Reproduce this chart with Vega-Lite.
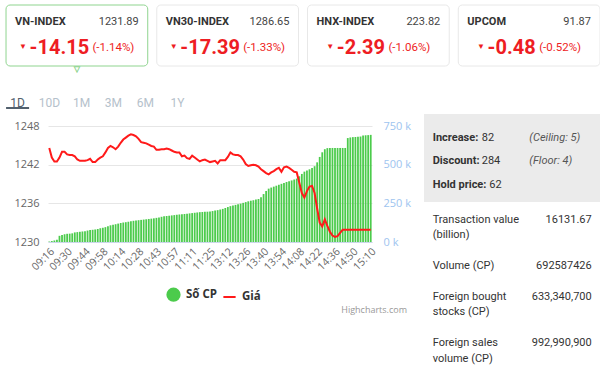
{
"$schema": "https://vega.github.io/schema/vega-lite/v6.json",
"padding": {"top": 4, "left": 0, "right": 0, "bottom": 0},
"background": "white",
"config": {"view": {"stroke": null}, "font": "Open Sans", "text": {"font": "Roboto"}},
"datasets": {
 "cards": [
  {"name": "VN-INDEX", "value": 1231.89, "change": -14.15, "pct": -1.14},
  {"name": "VN30-INDEX", "value": 1286.65, "change": -17.39, "pct": -1.33},
  {"name": "HNX-INDEX", "value": 223.82, "change": -2.39, "pct": -1.06},
  {"name": "UPCOM", "value": 91.87, "change": -0.48, "pct": -0.52}
 ],
 "tabs": [{"tab": "1D"}, {"tab": "10D"}, {"tab": "1M"}, {"tab": "3M"}, {"tab": "6M"}, {"tab": "1Y"}],
 "stats": [
  {"k": "Increase:", "v": "82", "note": "(Ceiling: 5)"},
  {"k": "Discount:", "v": "284", "note": "(Floor: 4)"},
  {"k": "Hold price:", "v": "62", "note": ""}
 ],
 "info": [
  {"line": "Transaction value", "val": "16131.67"},
  {"line": "(billion)", "val": ""},
  {"line": "Volume (CP)", "val": "692587426"},
  {"line": "Foreign bought", "val": "633,340,700"},
  {"line": "stocks (CP)", "val": ""},
  {"line": "Foreign sales", "val": "992,990,900"},
  {"line": "volume (CP)", "val": ""}
 ],
 "series": [
  {"t":"09:16","v":3,"p":1244.6},{"t":"09:18","v":6,"p":1243.1},{"t":"09:20","v":10,"p":1242.5},{"t":"09:22","v":15,"p":1242.5},
  {"t":"09:24","v":40,"p":1243.1},{"t":"09:26","v":45,"p":1244.0},{"t":"09:28","v":50,"p":1244.0},{"t":"09:30","v":53,"p":1243.6},
  {"t":"09:32","v":54,"p":1243.5},{"t":"09:34","v":56,"p":1243.5},{"t":"09:36","v":62,"p":1243.3},{"t":"09:38","v":64,"p":1242.8},
  {"t":"09:40","v":66,"p":1242.6},{"t":"09:42","v":68,"p":1242.6},{"t":"09:44","v":70,"p":1242.6},{"t":"09:46","v":74,"p":1242.7},
  {"t":"09:48","v":77,"p":1242.9},{"t":"09:50","v":79,"p":1242.4},{"t":"09:52","v":81,"p":1242.4},{"t":"09:54","v":84,"p":1242.8},
  {"t":"09:56","v":89,"p":1243.1},{"t":"09:58","v":92,"p":1243.3},{"t":"10:00","v":96,"p":1243.9},{"t":"10:02","v":102,"p":1244.6},
  {"t":"10:05","v":108,"p":1244.9},{"t":"10:07","v":111,"p":1244.7},{"t":"10:09","v":115,"p":1244.4},{"t":"10:11","v":119,"p":1244.8},
  {"t":"10:14","v":123,"p":1245.4},{"t":"10:16","v":126,"p":1245.9},{"t":"10:18","v":128,"p":1246.2},{"t":"10:20","v":131,"p":1246.5},
  {"t":"10:22","v":134,"p":1246.7},{"t":"10:24","v":137,"p":1246.6},{"t":"10:26","v":139,"p":1246.4},{"t":"10:28","v":141,"p":1246.0},
  {"t":"10:30","v":143,"p":1245.5},{"t":"10:32","v":145,"p":1245.4},{"t":"10:34","v":147,"p":1245.3},{"t":"10:37","v":149,"p":1245.1},
  {"t":"10:39","v":151,"p":1244.9},{"t":"10:41","v":153,"p":1244.8},{"t":"10:43","v":156,"p":1244.3},{"t":"10:45","v":159,"p":1244.3},
  {"t":"10:47","v":163,"p":1244.4},{"t":"10:49","v":166,"p":1244.4},{"t":"10:51","v":168,"p":1244.5},{"t":"10:53","v":170,"p":1244.4},
  {"t":"10:55","v":172,"p":1244.2},{"t":"10:57","v":174,"p":1244.0},{"t":"10:59","v":176,"p":1243.9},{"t":"11:01","v":178,"p":1243.9},
  {"t":"11:03","v":180,"p":1243.3},{"t":"11:05","v":181,"p":1243.4},{"t":"11:07","v":183,"p":1243.0},{"t":"11:09","v":185,"p":1242.9},
  {"t":"11:11","v":187,"p":1243.4},{"t":"11:13","v":189,"p":1243.1},{"t":"11:15","v":191,"p":1242.8},{"t":"11:17","v":193,"p":1242.5},
  {"t":"11:19","v":194,"p":1242.7},{"t":"11:21","v":195,"p":1242.8},{"t":"11:23","v":196,"p":1242.6},{"t":"11:25","v":198,"p":1242.4},
  {"t":"11:27","v":200,"p":1242.5},{"t":"11:29","v":203,"p":1242.6},{"t":"13:02","v":206,"p":1242.2},{"t":"13:04","v":210,"p":1242.7},
  {"t":"13:06","v":214,"p":1242.7},{"t":"13:09","v":220,"p":1242.7},{"t":"13:12","v":226,"p":1243.2},{"t":"13:14","v":232,"p":1243.9},
  {"t":"13:16","v":236,"p":1243.6},{"t":"13:18","v":240,"p":1243.5},{"t":"13:20","v":244,"p":1243.5},{"t":"13:22","v":248,"p":1243.3},
  {"t":"13:24","v":253,"p":1242.8},{"t":"13:26","v":258,"p":1242.1},{"t":"13:28","v":263,"p":1241.8},{"t":"13:30","v":267,"p":1241.9},
  {"t":"13:32","v":270,"p":1242.0},{"t":"13:34","v":274,"p":1241.9},{"t":"13:36","v":278,"p":1241.7},{"t":"13:38","v":290,"p":1241.3},
  {"t":"13:40","v":310,"p":1241.0},{"t":"13:42","v":330,"p":1240.7},{"t":"13:44","v":345,"p":1240.5},{"t":"13:46","v":352,"p":1240.8},
  {"t":"13:48","v":358,"p":1241.0},{"t":"13:50","v":364,"p":1241.3},{"t":"13:52","v":370,"p":1241.5},{"t":"13:54","v":376,"p":1240.9},
  {"t":"13:56","v":382,"p":1241.6},{"t":"13:58","v":388,"p":1241.7},{"t":"14:00","v":393,"p":1241.5},{"t":"14:02","v":398,"p":1241.2},
  {"t":"14:04","v":404,"p":1240.9},{"t":"14:06","v":410,"p":1240.8},{"t":"14:08","v":425,"p":1239.2},{"t":"14:10","v":440,"p":1237.6},
  {"t":"14:12","v":455,"p":1236.9},{"t":"14:14","v":462,"p":1237.9},{"t":"14:16","v":470,"p":1238.6},{"t":"14:18","v":478,"p":1238.7},
  {"t":"14:20","v":490,"p":1237.6},{"t":"14:22","v":515,"p":1235.2},{"t":"14:24","v":550,"p":1233.0},{"t":"14:26","v":580,"p":1232.4},
  {"t":"14:28","v":600,"p":1233.5},{"t":"14:30","v":607,"p":1232.5},{"t":"14:32","v":608,"p":1231.6},{"t":"14:34","v":608,"p":1231.0},
  {"t":"14:36","v":608,"p":1230.8},{"t":"14:38","v":608,"p":1230.9},{"t":"14:40","v":608,"p":1231.4},{"t":"14:42","v":608,"p":1231.9},
  {"t":"14:44","v":608,"p":1231.89},{"t":"14:46","v":672,"p":1231.89},{"t":"14:48","v":676,"p":1231.89},{"t":"14:50","v":678,"p":1231.89},
  {"t":"14:52","v":679,"p":1231.89},{"t":"14:54","v":680,"p":1231.89},{"t":"14:56","v":682,"p":1231.89},{"t":"14:58","v":688,"p":1231.89},
  {"t":"15:00","v":690,"p":1231.89},{"t":"15:05","v":691,"p":1231.89},{"t":"15:10","v":692.6,"p":1231.89}
 ]
},
"spacing": 4,
"bounds": "full",
"vconcat": [
 {
  "spacing": 41,
  "bounds": "flush",
  "vconcat": [
   {
    "width": 600, "height": 61,
    "data": {"name": "cards"},
    "transform": [{"calculate": "'(' + datum.pct + '%)'", "as": "pctLabel"}],
    "encoding": {"x": {"field": "name", "type": "nominal", "sort": null, "axis": null,
      "scale": {"domain": ["VN-INDEX", "VN30-INDEX", "HNX-INDEX", "UPCOM"], "paddingInner": 0.06, "paddingOuter": 0.02, "align": 1}}},
    "layer": [
     {"mark": {"type": "bar", "fill": "white", "cornerRadius": 4, "strokeWidth": 1},
      "encoding": {"stroke": {"condition": {"test": "datum.name === 'VN-INDEX'", "value": "#8fd48f"}, "value": "#e8e8e8"}}},
     {"transform": [{"filter": "datum.name === 'VN-INDEX'"}],
      "mark": {"type": "text", "text": "▼", "fontSize": 9, "fill": "white", "stroke": "#8fd48f", "strokeWidth": 1, "dy": 33}},
     {"mark": {"type": "text", "align": "left", "dx": -61.85, "dy": -13.8, "fontSize": 11, "fontWeight": "bold", "fill": "#333333"},
      "encoding": {"text": {"field": "name", "type": "nominal"}}},
     {"mark": {"type": "text", "align": "right", "dx": 61.85, "dy": -13.8, "fontSize": 11, "fill": "#444444"},
      "encoding": {"text": {"field": "value", "type": "nominal"}}},
     {"mark": {"type": "text", "align": "center", "dx": -17.5, "dy": 12.2, "fontSize": 20, "fontWeight": "bold", "fill": "#ee1d23"},
      "encoding": {"text": {"field": "change", "type": "nominal"}}},
     {"transform": [{"filter": "datum.change <= -10"}],
      "mark": {"type": "text", "text": "▼", "fontSize": 8, "fill": "#ee1d23", "dx": -54, "dy": 11.5}},
     {"transform": [{"filter": "datum.change > -10"}],
      "mark": {"type": "text", "text": "▼", "fontSize": 8, "fill": "#ee1d23", "dx": -48.3, "dy": 11.5}},
     {"transform": [{"filter": "datum.change <= -10"}],
      "mark": {"type": "text", "align": "left", "dx": 15.5, "dy": 12.8, "fontSize": 11.5, "fill": "#ee1d23"},
      "encoding": {"text": {"field": "pctLabel", "type": "nominal"}}},
     {"transform": [{"filter": "datum.change > -10"}],
      "mark": {"type": "text", "align": "left", "dx": 10, "dy": 12.8, "fontSize": 11.5, "fill": "#ee1d23"},
      "encoding": {"text": {"field": "pctLabel", "type": "nominal"}}}
    ]
   },
   {
    "width": 195, "height": 2,
    "data": {"name": "tabs"},
    "encoding": {"x": {"field": "tab", "type": "nominal", "sort": null,
      "scale": {"domain": ["1D", "10D", "1M", "3M", "6M", "1Y"], "paddingInner": 0.28, "paddingOuter": 0.19},
      "axis": {"orient": "top", "title": null, "domain": false, "ticks": false, "tickSize": 0, "labelAngle": 0, "labelPadding": 1,
        "labelBaseline": "alphabetic", "labelFont": "Roboto", "labelFontSize": 12,
        "labelColor": {"condition": {"test": "datum.value === '1D'", "value": "#52606d"}, "value": "#b5c1cb"}}}},
    "layer": [
     {"transform": [{"filter": "datum.tab === '1D'"}], "mark": {"type": "bar", "color": "#52606d"}}
    ]
   }
  ]
 },
 {
  "spacing": 0,
  "bounds": "full",
  "hconcat": [
   {"width": 14, "height": 10, "data": {"values": [{}]}, "mark": {"type": "text", "text": ""}, "encoding": {}},
   {
    "spacing": 0,
    "bounds": "flush",
    "vconcat": [
     {"width": 376, "height": 12, "data": {"values": [{}]}, "mark": {"type": "text", "text": ""}, "encoding": {}},
     {
      "width": 324, "height": 116,
      "data": {"name": "series"},
      "title": {"text": "Highcharts.com", "orient": "bottom", "anchor": "end", "frame": "group", "fontSize": 9, "fontWeight": "normal", "color": "#999999", "font": "Open Sans", "offset": 34, "dx": 35},
      "encoding": {"x": {"field": "t", "type": "ordinal", "sort": null,
        "scale": {"paddingInner": 0.3, "paddingOuter": 0.15},
        "axis": {"title": null, "values": ["09:16","09:30","09:44","09:58","10:14","10:28","10:43","10:57","11:11","11:25","13:12","13:26","13:40","13:54","14:08","14:22","14:36","14:50","15:10"],
          "labelAngle": -45, "labelOverlap": false, "ticks": false, "tickSize": 0, "domainColor": "#ccd6eb", "labelColor": "#666666", "labelFontSize": 10.5, "labelPadding": 4}}},
      "layer": [
       {"mark": {"type": "bar"},
        "encoding": {
         "y": {"field": "v", "type": "quantitative", "scale": {"domain": [0, 750]},
           "axis": {"orient": "right", "title": null, "values": [0, 250, 500, 750], "labelExpr": "datum.value + ' k'", "grid": false, "domain": false, "ticks": false, "tickSize": 0, "labelPadding": 11, "labelColor": "#9ec4ef", "labelFontSize": 11}},
         "color": {"datum": "Số CP", "type": "nominal",
           "scale": {"domain": ["Số CP", "Giá"], "range": ["#4ccb4c", "#ff1a1a"]},
           "legend": {"orient": "none", "legendX": 166, "legendY": 282, "direction": "horizontal", "title": null,
             "labelFont": "Open Sans", "labelFontSize": 11.5, "labelFontWeight": "bold", "labelColor": "#333333",
             "symbolSize": 150, "labelOffset": 5, "columnPadding": 2,
             "encode": {"symbols": {"update": {
               "shape": {"signal": "datum.value === 'Giá' ? 'stroke' : 'circle'"},
               "fill": {"signal": "datum.value === 'Giá' ? 'transparent' : '#3fc43f'"},
               "stroke": {"signal": "datum.value === 'Giá' ? '#ff1a1a' : 'transparent'"},
               "strokeWidth": {"value": 2}}}}}}
        }},
       {"mark": {"type": "line", "strokeWidth": 2},
        "encoding": {
         "y": {"field": "p", "type": "quantitative", "scale": {"domain": [1230, 1248], "zero": false},
           "axis": {"orient": "left", "title": null, "values": [1230, 1236, 1242, 1248], "format": "d", "grid": true, "gridColor": "#e6e6e6", "domain": false, "ticks": false, "tickSize": 0, "labelAlign": "left", "labelPadding": 34, "labelColor": "#666666", "labelFontSize": 11}},
         "color": {"datum": "Giá", "type": "nominal"}
        }}
      ],
      "resolve": {"scale": {"y": "independent"}}
     }
    ]
   },
   {
    "spacing": 0,
    "bounds": "flush",
    "vconcat": [
     {
      "width": 176, "height": 88,
      "view": {"fill": "#ebebeb", "stroke": null},
      "data": {"name": "stats"},
      "encoding": {"y": {"field": "k", "type": "nominal", "sort": null, "axis": null,
        "scale": {"type": "point", "domain": ["Increase:", "Discount:", "Hold price:"], "padding": 0.87, "align": 0.585}}},
      "layer": [
       {"mark": {"type": "text", "align": "left", "dx": -79.3, "fontSize": 11, "fontWeight": "bold", "fill": "#333333"},
        "encoding": {"text": {"field": "k", "type": "nominal"}}},
       {"transform": [{"filter": "datum.k !== 'Hold price:'"}],
        "mark": {"type": "text", "align": "left", "dx": -30.3, "fontSize": 11, "fill": "#333333"},
        "encoding": {"text": {"field": "v", "type": "nominal"}}},
       {"transform": [{"filter": "datum.k === 'Hold price:'"}],
        "mark": {"type": "text", "align": "left", "dx": -22.7, "fontSize": 11, "fill": "#333333"},
        "encoding": {"text": {"field": "v", "type": "nominal"}}},
       {"mark": {"type": "text", "align": "left", "dx": 17.3, "fontSize": 11, "fontStyle": "italic", "fill": "#555555"},
        "encoding": {"text": {"field": "note", "type": "nominal"}}}
      ]
     },
     {
      "width": 176, "height": 165,
      "data": {"name": "info"},
      "encoding": {"y": {"field": "line", "type": "nominal", "sort": null, "axis": null,
        "scale": {"type": "point", "domain": ["Transaction value", "(billion)", " ", "Volume (CP)", "  ", "Foreign bought", "stocks (CP)", "   ", "Foreign sales", "volume (CP)"], "padding": 0.857, "align": 0.68}}},
      "layer": [
       {"mark": {"type": "text", "align": "left", "dx": -79.3, "fontSize": 11, "fill": "#333333"},
        "encoding": {"text": {"field": "line", "type": "nominal"}}},
       {"mark": {"type": "text", "align": "right", "dx": 79.7, "fontSize": 11, "fill": "#333333"},
        "encoding": {"text": {"field": "val", "type": "nominal"}}}
      ]
     }
    ]
   }
  ]
 }
]
}
